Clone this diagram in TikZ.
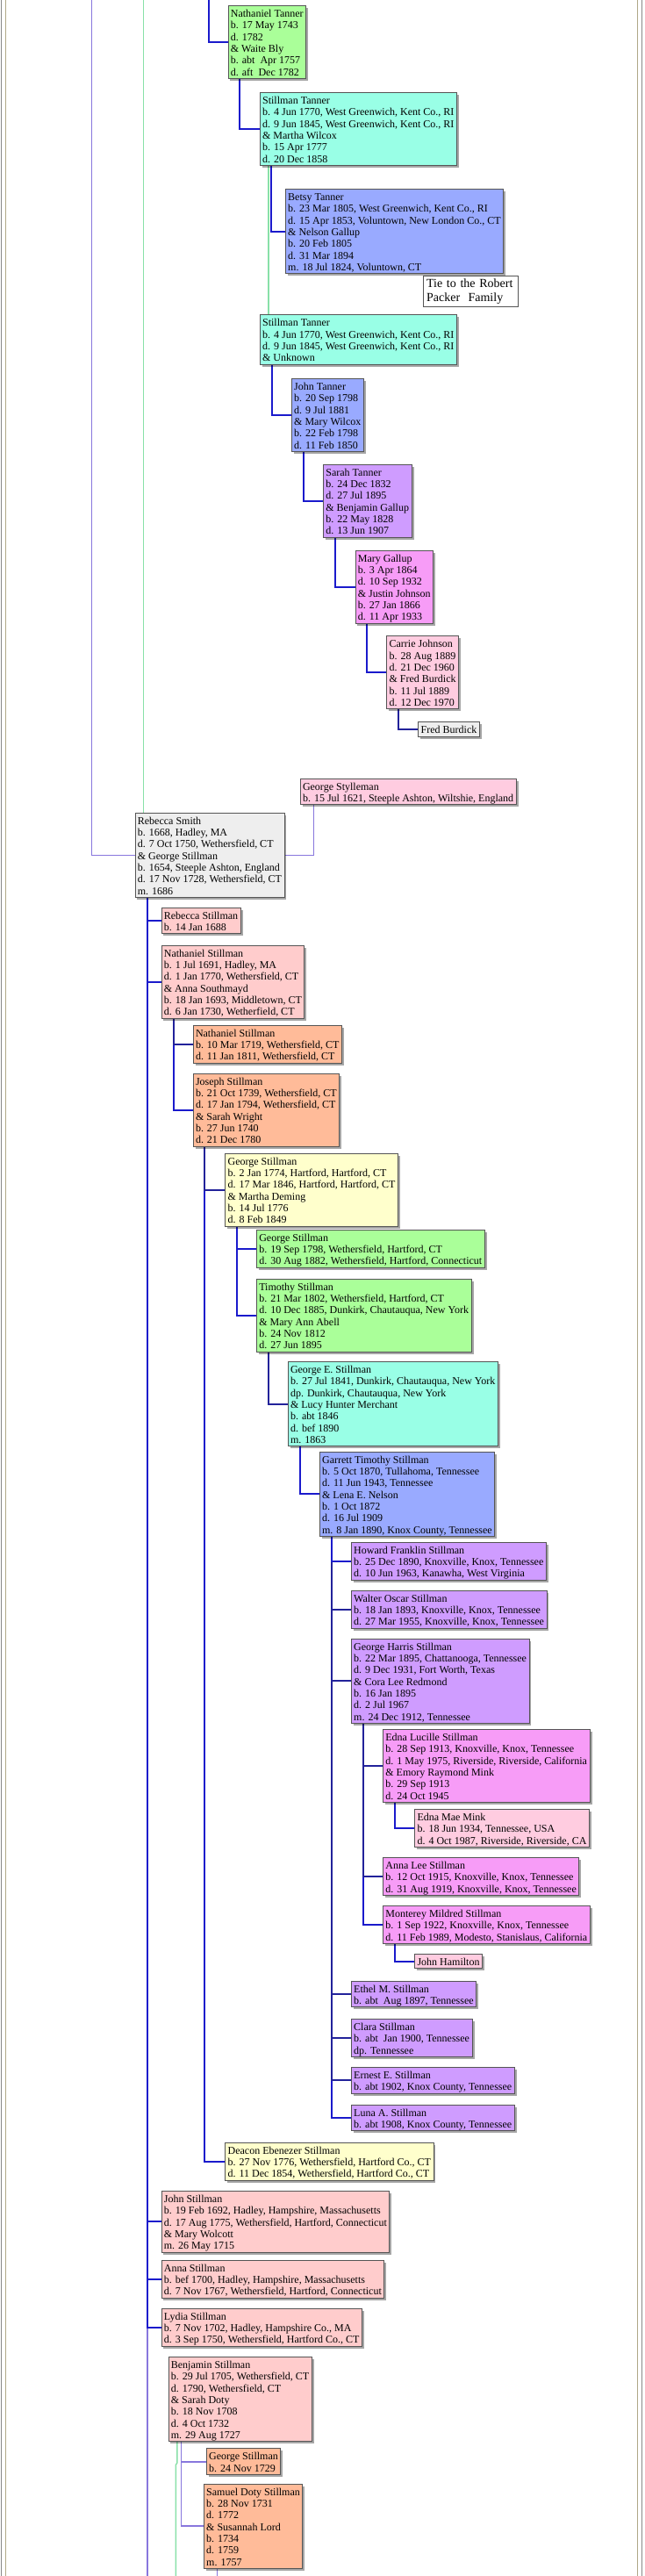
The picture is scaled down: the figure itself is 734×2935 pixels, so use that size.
\documentclass[tikz,border=0pt]{standalone}
\usepackage{fontspec}
\setmainfont{Liberation Serif}
\usetikzlibrary{calc,shadows}
\pgfdeclarelayer{bg}
\pgfsetlayers{bg,main}
\definecolor{cPink}{HTML}{FFCCCC}
\definecolor{cRose}{HTML}{FFCCE0}
\definecolor{cOrange}{HTML}{FFBB99}
\definecolor{cYellow}{HTML}{FFFFCC}
\definecolor{cGreen}{HTML}{AAFF99}
\definecolor{cAqua}{HTML}{99FFE6}
\definecolor{cPeri}{HTML}{99AAFF}
\definecolor{cLav}{HTML}{CF9CFF}
\definecolor{cMag}{HTML}{F79CF7}
\definecolor{cGray}{HTML}{EEEEEE}
\definecolor{cBorder}{HTML}{555555}
\definecolor{lBlue}{HTML}{1A1ACC}
\definecolor{lNavy}{HTML}{22229A}
\definecolor{lPurple}{HTML}{8877DD}
\definecolor{lGreen}{HTML}{88E0A8}
\definecolor{frGray}{HTML}{888888}
\definecolor{frTan}{HTML}{B0A888}
\newcommand\ftop{\rule{0pt}{13pt}}
\newcommand\fbot{\rule[-3.4pt]{0pt}{3.4pt}}
\newcommand\ttop{\rule{0pt}{12.4pt}}
\newcommand\tbot{\rule[-6.6pt]{0pt}{6.6pt}}
\begin{document}
\begin{tikzpicture}[x=1pt,y=-1pt,
 person/.style={draw=cBorder,line width=0.8pt,inner xsep=3pt,inner ysep=0pt,align=left,anchor=north west,
   font=\fontsize{12}{13.333}\selectfont,
   drop shadow={shadow xshift=2.5pt,shadow yshift=-2.5pt,fill=black,opacity=0.35}},
 tiebox/.style={draw=cBorder,line width=0.8pt,fill=white,inner xsep=3.75pt,inner ysep=0pt,align=left,anchor=north west,
   text width=100pt,font=\fontsize{14}{16}\selectfont},
 bl/.style={draw=lBlue,line width=2pt},
 nv/.style={draw=lNavy,line width=2pt},
 pu/.style={draw=lPurple,line width=1.4pt},
 gr/.style={draw=lGreen,line width=1.4pt},
]
\useasboundingbox (0,0) rectangle (734,2935);

% nodes
\node[person,fill=cGreen] (nt) at (259.5,6) {\ftop Nathaniel Tanner\\b. 17 May 1743\\d. 1782\\\& Waite Bly\\b. abt~ Apr 1757\\d. aft~ Dec 1782\fbot};
\node[person,fill=cAqua] (st1) at (295.7,105) {\ftop Stillman Tanner\\b. 4 Jun 1770, West Greenwich, Kent Co., RI\\d. 9 Jun 1845, West Greenwich, Kent Co., RI\\\& Martha Wilcox\\b. 15 Apr 1777\\d. 20 Dec 1858\fbot};
\node[person,fill=cPeri] (betsy) at (324.8,215) {\ftop Betsy Tanner\\b. 23 Mar 1805, West Greenwich, Kent Co., RI\\d. 15 Apr 1853, Voluntown, New London Co., CT\\\& Nelson Gallup\\b. 20 Feb 1805\\d. 31 Mar 1894\\m. 18 Jul 1824, Voluntown, CT\fbot};
\node[tiebox] (tie) at (482,314.3) {\ttop Tie to the Robert\\Packer~ Family\tbot};
\node[person,fill=cAqua] (st2) at (295.7,358.3) {\ftop Stillman Tanner\\b. 4 Jun 1770, West Greenwich, Kent Co., RI\\d. 9 Jun 1845, West Greenwich, Kent Co., RI\\\& Unknown\fbot};
\node[person,fill=cPeri] (john) at (331.8,431) {\ftop John Tanner\\b. 20 Sep 1798\\d. 9 Jul 1881\\\& Mary Wilcox\\b. 22 Feb 1798\\d. 11 Feb 1850\fbot};
\node[person,fill=cLav] (sarah) at (368,528.7) {\ftop Sarah Tanner\\b. 24 Dec 1832\\d. 27 Jul 1895\\\& Benjamin Gallup\\b. 22 May 1828\\d. 13 Jun 1907\fbot};
\node[person,fill=cMag] (mary) at (404.5,626.7) {\ftop Mary Gallup\\b. 3 Apr 1864\\d. 10 Sep 1932\\\& Justin Johnson\\b. 27 Jan 1866\\d. 11 Apr 1933\fbot};
\node[person,fill=cRose] (carrie) at (440.2,724.3) {\ftop Carrie Johnson\\b. 28 Aug 1889\\d. 21 Dec 1960\\\& Fred Burdick\\b. 11 Jul 1889\\d. 12 Dec 1970\fbot};
\node[person,fill=cGray] (fred) at (476.3,822.3) {\ftop Fred Burdick\fbot};
\node[person,fill=cRose] (gsty) at (341.6,886.7) {\ftop George Stylleman\\b. 15 Jul 1621, Steeple Ashton, Wiltshie, England\fbot};
\node[person,fill=cGray] (rsmith) at (153.5,925.7) {\ftop Rebecca Smith\\b. 1668, Hadley, MA\\d. 7 Oct 1750, Wethersfield, CT\\\& George Stillman\\b. 1654, Steeple Ashton, England\\d. 17 Nov 1728, Wethersfield, CT\\m. 1686\fbot};
\node[person,fill=cPink] (rbs) at (183.5,1033.7) {\ftop Rebecca Stillman\\b. 14 Jan 1688\fbot};
\node[person,fill=cPink] (nsp) at (183.5,1076.7) {\ftop Nathaniel Stillman\\b. 1 Jul 1691, Hadley, MA\\d. 1 Jan 1770, Wethersfield, CT\\\& Anna Southmayd\\b. 18 Jan 1693, Middletown, CT\\d. 6 Jan 1730, Wetherfield, CT\fbot};
\node[person,fill=cOrange] (nsc) at (219.6,1167.7) {\ftop Nathaniel Stillman\\b. 10 Mar 1719, Wethersfield, CT\\d. 11 Jan 1811, Wethersfield, CT\fbot};
\node[person,fill=cOrange] (jos) at (219.6,1222.7) {\ftop Joseph Stillman\\b. 21 Oct 1739, Wethersfield, CT\\d. 17 Jan 1794, Wethersfield, CT\\\& Sarah Wright\\b. 27 Jun 1740\\d. 21 Dec 1780\fbot};
\node[person,fill=cYellow] (g1774) at (256.2,1313.7) {\ftop George Stillman\\b. 2 Jan 1774, Hartford, Hartford, CT\\d. 17 Mar 1846, Hartford, Hartford, CT\\\& Martha Deming\\b. 14 Jul 1776\\d. 8 Feb 1849\fbot};
\node[person,fill=cGreen] (g1798) at (291.9,1400.7) {\ftop George Stillman\\b. 19 Sep 1798, Wethersfield, Hartford, CT\\d. 30 Aug 1882, Wethersfield, Hartford, Connecticut\fbot};
\node[person,fill=cGreen] (tim) at (291.9,1456.7) {\ftop Timothy Stillman\\b. 21 Mar 1802, Wethersfield, Hartford, CT\\d. 10 Dec 1885, Dunkirk, Chautauqua, New York\\\& Mary Ann Abell\\b. 24 Nov 1812\\d. 27 Jun 1895\fbot};
\node[person,fill=cAqua] (ge) at (327.6,1551) {\ftop George E. Stillman\\b. 27 Jul 1841, Dunkirk, Chautauqua, New York\\dp. Dunkirk, Chautauqua, New York\\\& Lucy Hunter Merchant\\b. abt 1846\\d. bef 1890\\m. 1863\fbot};
\node[person,fill=cPeri] (gar) at (363.7,1653.7) {\ftop Garrett Timothy Stillman\\b. 5 Oct 1870, Tullahoma, Tennessee\\d. 11 Jun 1943, Tennessee\\\& Lena E. Nelson\\b. 1 Oct 1872\\d. 16 Jul 1909\\m. 8 Jan 1890, Knox County, Tennessee\fbot};
\node[person,fill=cLav] (how) at (399.8,1756.7) {\ftop Howard Franklin Stillman\\b. 25 Dec 1890, Knoxville, Knox, Tennessee\\d. 10 Jun 1963, Kanawha, West Virginia\fbot};
\node[person,fill=cLav] (wal) at (399.8,1811.7) {\ftop Walter Oscar Stillman\\b. 18 Jan 1893, Knoxville, Knox, Tennessee\\d. 27 Mar 1955, Knoxville, Knox, Tennessee\fbot};
\node[person,fill=cLav] (gh) at (399.8,1866.7) {\ftop George Harris Stillman\\b. 22 Mar 1895, Chattanooga, Tennessee\\d. 9 Dec 1931, Fort Worth, Texas\\\& Cora Lee Redmond\\b. 16 Jan 1895\\d. 2 Jul 1967\\m. 24 Dec 1912, Tennessee\fbot};
\node[person,fill=cMag] (edl) at (436,1970) {\ftop Edna Lucille Stillman\\b. 28 Sep 1913, Knoxville, Knox, Tennessee\\d. 1 May 1975, Riverside, Riverside, California\\\& Emory Raymond Mink\\b. 29 Sep 1913\\d. 24 Oct 1945\fbot};
\node[person,fill=cRose] (edm) at (472.1,2061) {\ftop Edna Mae Mink\\b. 18 Jun 1934, Tennessee, USA\\d. 4 Oct 1987, Riverside, Riverside, CA\fbot};
\node[person,fill=cMag] (anl) at (436,2116) {\ftop Anna Lee Stillman\\b. 12 Oct 1915, Knoxville, Knox, Tennessee\\d. 31 Aug 1919, Knoxville, Knox, Tennessee\fbot};
\node[person,fill=cMag] (mon) at (436,2171) {\ftop Monterey Mildred Stillman\\b. 1 Sep 1922, Knoxville, Knox, Tennessee\\d. 11 Feb 1989, Modesto, Stanislaus, California\fbot};
\node[person,fill=cRose] (jh) at (472.1,2226) {\ftop John Hamilton\fbot};
\node[person,fill=cLav] (eth) at (399.8,2256.7) {\ftop Ethel M. Stillman\\b. abt~ Aug 1897, Tennessee\fbot};
\node[person,fill=cLav] (cla) at (399.8,2300) {\ftop Clara Stillman\\b. abt~ Jan 1900, Tennessee\\dp. Tennessee\fbot};
\node[person,fill=cLav] (ern) at (399.8,2355) {\ftop Ernest E. Stillman\\b. abt 1902, Knox County, Tennessee\fbot};
\node[person,fill=cLav] (lun) at (399.8,2397.7) {\ftop Luna A. Stillman\\b. abt 1908, Knox County, Tennessee\fbot};
\node[person,fill=cYellow] (dea) at (256.2,2440.7) {\ftop Deacon Ebenezer Stillman\\b. 27 Nov 1776, Wethersfield, Hartford Co., CT\\d. 11 Dec 1854, Wethersfield, Hartford Co., CT\fbot};
\node[person,fill=cPink] (jst) at (183.5,2496) {\ftop John Stillman\\b. 19 Feb 1692, Hadley, Hampshire, Massachusetts\\d. 17 Aug 1775, Wethersfield, Hartford, Connecticut\\\& Mary Wolcott\\m. 26 May 1715\fbot};
\node[person,fill=cPink] (ast) at (183.5,2574.7) {\ftop Anna Stillman\\b. bef 1700, Hadley, Hampshire, Massachusetts\\d. 7 Nov 1767, Wethersfield, Hartford, Connecticut\fbot};
\node[person,fill=cPink] (lyd) at (183.5,2629.7) {\ftop Lydia Stillman\\b. 7 Nov 1702, Hadley, Hampshire Co., MA\\d. 3 Sep 1750, Wethersfield, Hartford Co., CT\fbot};
\node[person,fill=cPink] (ben) at (191.5,2685) {\ftop Benjamin Stillman\\b. 29 Jul 1705, Wethersfield, CT\\d. 1790, Wethersfield, CT\\\& Sarah Doty\\b. 18 Nov 1708\\d. 4 Oct 1732\\m. 29 Aug 1727\fbot};
\node[person,fill=cOrange] (g1729) at (234.7,2789.3) {\ftop George Stillman\\b. 24 Nov 1729\fbot};
\node[person,fill=cOrange] (sam) at (231.8,2829.7) {\ftop Samuel Doty Stillman\\b. 28 Nov 1731\\d. 1772\\\& Susannah Lord\\b. 1734\\d. 1759\\m. 1757\fbot};

% background, frame and connectors
\begin{pgfonlayer}{bg}
\fill[white] (0,0) rectangle (734,2935);
\draw[frGray,line width=1pt] (1.6,0) -- (1.6,2935);
\draw[frGray,line width=1pt] (731.3,0) -- (731.3,2935);
\draw[frTan,line width=1pt] (6.6,0) -- (6.6,2935);
\draw[frTan,line width=1pt] (726.4,0) -- (726.4,2935);
\coordinate (topN) at (237.5,0);
\coordinate (topP) at (104.2,0);
\coordinate (topG) at (163.3,0);
\coordinate (botL) at (168,2935);
\coordinate (botS) at (247.3,2935);
\coordinate (botG) at (200.4,2935);
\draw[bl] (topN) |- (nt.west);
\draw[bl] ($(nt.south west)+(13.6,0)$) |- (st1.west);
\draw[bl] ($(st1.south west)+(13.1,0)$) |- (betsy.west);
\draw[gr] ($(st1.south west)+(10.3,0)$) coordinate (g1) -- (g1 |- st2.north);
\draw[bl] ($(st2.south west)+(14,0)$) |- (john.west);
\draw[bl] ($(john.south west)+(14.1,0)$) |- (sarah.west);
\draw[bl] ($(sarah.south west)+(13.9,0)$) |- (mary.west);
\draw[bl] ($(mary.south west)+(13.2,0)$) |- (carrie.west);
\draw[nv] ($(carrie.south west)+(14.1,0)$) |- (fred.west);
\draw[pu] (topP) |- (rsmith.west);
\draw[gr] (topG) -- (topG |- rsmith.north);
\draw[pu] ($(gsty.south west)+(16,0)$) |- (rsmith.east);
\draw[pu] (botL |- lyd.west) -- (botL);
\draw[bl] ($(rsmith.south west)+(14.5,0)$) |- (lyd.west);
\draw[bl] ($(rsmith.south west)+(14.5,0)$) |- (ast.west);
\draw[bl] ($(rsmith.south west)+(14.5,0)$) |- (jst.west);
\draw[bl] ($(rsmith.south west)+(14.5,0)$) |- (nsp.west);
\draw[bl] ($(rsmith.south west)+(14.5,0)$) |- (rbs.west);
\draw[bl] ($(nsp.south west)+(14.1,0)$) |- (jos.west);
\draw[nv] ($(nsp.south west)+(14.1,0)$) |- (nsc.west);
\draw[bl] ($(jos.south west)+(13.6,0)$) |- (dea.west);
\draw[nv] ($(jos.south west)+(13.6,0)$) |- (g1774.west);
\draw[bl] ($(g1774.south west)+(14.1,0)$) |- (g1798.west);
\draw[bl] ($(g1774.south west)+(14.1,0)$) |- (tim.west);
\draw[nv] ($(tim.south west)+(13.6,0)$) |- (ge.west);
\draw[bl] ($(ge.south west)+(14,0)$) |- (gar.west);
\draw[bl] ($(gar.south west)+(14.1,0)$) |- (lun.west);
\draw[nv] ($(gar.south west)+(14.1,0)$) |- (ern.west);
\draw[nv] ($(gar.south west)+(14.1,0)$) |- (cla.west);
\draw[nv] ($(gar.south west)+(14.1,0)$) |- (eth.west);
\draw[nv] ($(gar.south west)+(14.1,0)$) |- (gh.west);
\draw[nv] ($(gar.south west)+(14.1,0)$) |- (wal.west);
\draw[bl] ($(gar.south west)+(14.1,0)$) |- (how.west);
\draw[bl] ($(gh.south west)+(14.1,0)$) |- (mon.west);
\draw[nv] ($(gh.south west)+(14.1,0)$) |- (anl.west);
\draw[nv] ($(gh.south west)+(14.1,0)$) |- (edl.west);
\draw[bl] ($(edl.south west)+(14,0)$) |- (edm.west);
\draw[bl] ($(mon.south west)+(14,0)$) |- (jh.west);
\draw[pu,line width=1.8pt] ($(ben.south west)+(15,0)$) |- (sam.west);
\draw[pu,line width=1.8pt] ($(ben.south west)+(15,0)$) |- (g1729.west);
\draw[pu] (botS |- sam.south) -- (botS);
\draw[gr] ($(ben.south west)+(10.3,0)$) -- ++(0,24) -- ++(-1.4,2) -- (botG);
\end{pgfonlayer}
\end{tikzpicture}
\end{document}
